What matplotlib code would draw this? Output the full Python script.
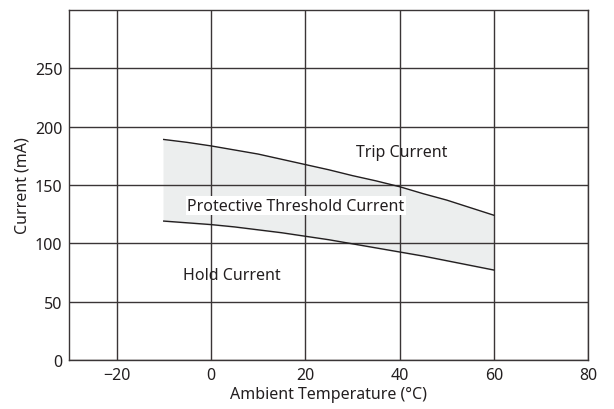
import matplotlib.pyplot as plt

plt.rcParams['font.family'] = ['Noto Sans', 'DejaVu Sans']

# temperature (°C) and current (mA)
temp = [-10, -5, 0, 5, 10, 15, 20, 25, 30, 35, 40, 45, 50, 55, 60]
trip = [189, 186.5, 183.5, 180, 176.5, 172, 167.5, 163, 158, 153.5, 148.5, 142.5, 137, 130.5, 124]
hold = [119, 117.5, 116, 114, 111.5, 109, 106, 103, 99.5, 96, 92.5, 89, 85, 81, 77]

xticks = [-20, 0, 20, 40, 60, 80]
yticks = [0, 50, 100, 150, 200, 250]

fig, ax = plt.subplots(figsize=(6.14, 4.10), dpi=100)
fig.subplots_adjust(left=0.113, right=0.958, top=0.973, bottom=0.12)

ax.fill_between(temp, hold, trip, color='#eceeee', zorder=1)
ax.plot(temp, trip, color='#231f20', lw=1.0, zorder=3)
ax.plot(temp, hold, color='#231f20', lw=1.0, zorder=3)

ax.set_xlim(-30, 80)
ax.set_ylim(0, 300)
ax.set_xticks(xticks)
ax.set_yticks(yticks)
ax.set_xticklabels(['\u221220', '0', '20', '40', '60', '80'])
ax.tick_params(length=0, labelsize=11.5, colors='#231f20', pad=5)
ax.grid(True, color='#3a3536', lw=1.0, zorder=2)
ax.set_axisbelow(False)
for s in ax.spines.values():
    s.set_color('#3a3536')
    s.set_linewidth(1.0)

fs = 11.5
ax.text(40.5, 178.5, 'Trip Current', ha='center', va='center', fontsize=fs, color='#231f20', zorder=4)
ax.text(18, 132, 'Protective Threshold Current', ha='center', va='center', fontsize=fs,
        color='#231f20', zorder=4,
        bbox=dict(facecolor='white', edgecolor='none', pad=1.0))
ax.text(4.5, 73, 'Hold Current', ha='center', va='center', fontsize=fs, color='#231f20', zorder=4)

ax.set_xlabel('Ambient Temperature (°C)', fontsize=fs, color='#231f20', labelpad=2)
ax.set_ylabel('Current (mA)', fontsize=fs, color='#231f20', labelpad=3)

fig.savefig('out.png')
